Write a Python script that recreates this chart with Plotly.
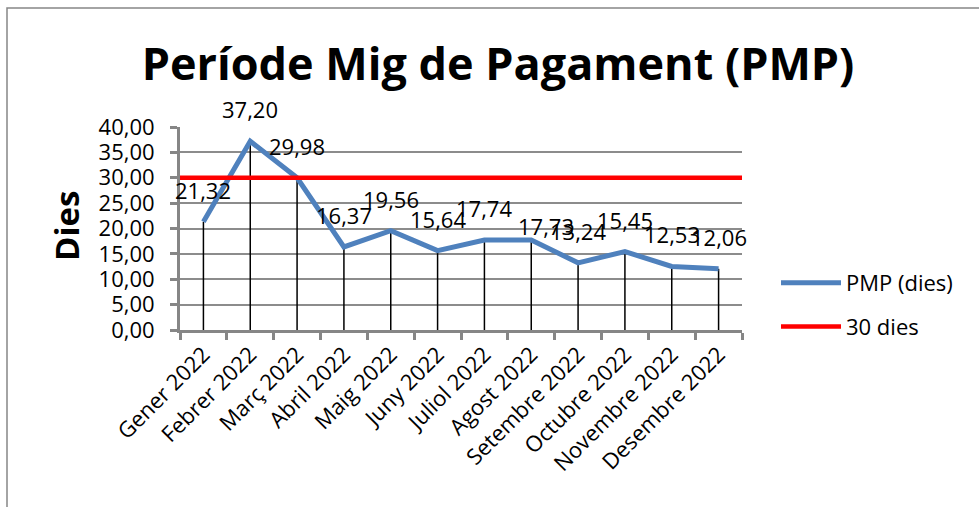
import plotly.graph_objects as go

months = ["Gener 2022", "Febrer 2022", "Març 2022", "Abril 2022", "Maig 2022", "Juny 2022",
          "Juliol 2022", "Agost 2022", "Setembre 2022", "Octubre 2022", "Novembre 2022", "Desembre 2022"]
pmp = [21.32, 37.20, 29.98, 16.37, 19.56, 15.64, 17.74, 17.73, 13.24, 15.45, 12.53, 12.06]
threshold = 30
y_ticks = [0, 5, 10, 15, 20, 25, 30, 35, 40]

FONT = "Open Sans"
W, H = 979, 507
L, R, T, B = 180, 742, 127, 330

xs = list(range(len(months)))

# label placement tweaks (pixel shifts), as in the source chart
label_shift = {7: (15, 14)}

def fmt(v):
    return f"{v:.2f}".replace(".", ",")

fig = go.Figure()

# drop lines
dx, dy = [], []
for i, v in zip(xs, pmp):
    dx += [i, i, None]
    dy += [0, v, None]
fig.add_trace(go.Scatter(x=dx, y=dy, mode="lines", line=dict(color="black", width=1.5),
                         showlegend=False, hoverinfo="skip"))

fig.add_trace(go.Scatter(x=xs, y=pmp, mode="lines", name="PMP (dies)",
                         line=dict(color="#4F81BD", width=5), legendgroup="a"))
fig.add_trace(go.Scatter(x=[-0.5, len(months) - 0.5], y=[threshold, threshold], mode="lines",
                         name="30 dies", line=dict(color="#FF0000", width=4.5), legendgroup="b"))

for i, v in zip(xs, pmp):
    xsh, ysh = label_shift.get(i, (0, 32))
    fig.add_annotation(x=i, y=v, text=fmt(v), showarrow=False, xshift=xsh, yshift=ysh,
                       font=dict(family=FONT, size=22, color="black"))

# y title
fig.add_annotation(xref="paper", yref="paper", x=(66 - L) / (R - L), y=(B - 226) / (B - T),
                   text="<b>Dies</b>", textangle=-90, showarrow=False,
                   xanchor="center", yanchor="middle",
                   font=dict(family=FONT, size=33, color="black"))

# outer chart border
fig.add_shape(type="rect", xref="paper", yref="paper",
              x0=(7 - L) / (R - L), x1=(990 - L) / (R - L),
              y0=(B - 520) / (B - T), y1=(B - 8) / (B - T),
              line=dict(color="#868686", width=1.5), layer="below")

fig.update_layout(
    width=W, height=H,
    margin=dict(l=L, r=W - R, t=T, b=H - B),
    paper_bgcolor="white", plot_bgcolor="white",
    title=dict(text="<b>Període Mig de Pagament (PMP)</b>", x=498 / W, xanchor="center",
               y=1 - 64 / H, yanchor="middle", yref="container",
               font=dict(family=FONT, size=45, color="black")),
    font=dict(family=FONT, size=22, color="black"),
    legend=dict(x=(776 - L) / (R - L), y=(B - 305) / (B - T), xanchor="left", yanchor="middle",
                font=dict(family=FONT, size=22, color="black"), tracegroupgap=12,
                itemwidth=60, bgcolor="rgba(0,0,0,0)"),
    xaxis=dict(range=[-0.5, len(months) - 0.5], tickmode="array", tickvals=xs, ticktext=months,
               tickangle=-45, ticks="", showgrid=False, zeroline=False,
               showline=True, linecolor="#868686", linewidth=3,
               minor=dict(ticks="outside", ticklen=7, tickwidth=3, tickcolor="#868686",
                          tick0=-0.5, dtick=1, showgrid=False),
               tickfont=dict(family=FONT, size=22, color="black")),
    yaxis=dict(range=[0, 40], tickmode="array", tickvals=y_ticks,
               ticktext=[fmt(v) for v in y_ticks],
               ticks="outside", ticklen=7, tickwidth=3, tickcolor="#868686",
               showline=True, linecolor="#868686", linewidth=3,
               showgrid=True, gridcolor="#8c8c8c", gridwidth=1.5, zeroline=False,
               ticklabelstandoff=11,
               tickfont=dict(family=FONT, size=22, color="black")),
)

fig.write_html("out.html", config={"displayModeBar": False},
               post_script="document.body.style.margin='0';")
